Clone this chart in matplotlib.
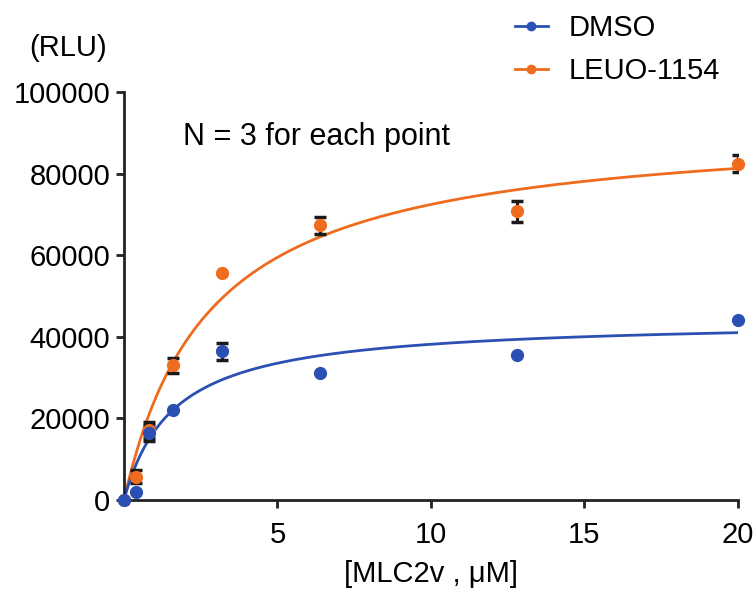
# enzyme kinetics plot: RLU vs MLC2v concentration, DMSO vs LEUO-1154
import numpy as np
import matplotlib
matplotlib.use('Agg')
import matplotlib.pyplot as plt
from matplotlib import rcParams

rcParams['font.family'] = ['Liberation Sans', 'DejaVu Sans']

# data (means +/- error; 0 = bar hidden by marker)
conc = np.array([0, 0.4, 0.8, 1.6, 3.2, 6.4, 12.8, 20])  # MLC2v (uM)
dmso = np.array([0, 2000, 16500, 22000, 36500, 31200, 35500, 44200])
dmso_err = np.array([0, 0, 2000, 0, 2100, 0, 0, 0])
leuo = np.array([0, 5700, 17200, 33000, 55600, 67300, 70700, 82400])
leuo_err = np.array([0, 1600, 2000, 1900, 0, 2000, 2600, 2150])

labels = ['DMSO', 'LEUO-1154']
colors = ['#2b50b4', '#ef6b1e']

yticks = [0, 20000, 40000, 60000, 80000, 100000]
xticks = [5, 10, 15, 20]


def mm_fit(x, y):
    # michaelis-menten least squares: grid on Km, Vmax solved linearly
    best = None
    for km in np.linspace(0.05, 20, 4000):
        f = x / (km + x)
        vm = np.sum(y * f) / np.sum(f * f)
        sse = np.sum((y - vm * f) ** 2)
        if best is None or sse < best[0]:
            best = (sse, km, vm)
    return best[1], best[2]


fig = plt.figure(figsize=(7.56, 5.89), dpi=100)
ax = fig.add_axes([0.164, 0.151, 0.812, 0.693])

xf = np.linspace(0, 20, 300)
handles = []
for y, err, col, lab in [(leuo, leuo_err, colors[1], labels[1]),
                         (dmso, dmso_err, colors[0], labels[0])]:
    km, vm = mm_fit(conc, y)
    ax.plot(xf, vm * xf / (km + xf), color=col, lw=2, zorder=2)
    m = err > 0
    ax.errorbar(conc[m], y[m], yerr=err[m], fmt='none', ecolor='#1a1a1a',
                elinewidth=2.2, capsize=4.5, capthick=2.5, zorder=3)
    ax.plot(conc, y, 'o', color=col, ms=8.5, zorder=4, clip_on=False)
    h, = ax.plot([], [], '-o', color=col, lw=2, ms=6, label=lab)
    handles.append(h)

ax.set_xlim(0, 20)
ax.set_ylim(0, 100000)
ax.set_xticks(xticks)
ax.set_yticks(yticks)
ax.set_yticklabels([str(t) for t in yticks])

for s in ['top', 'right']:
    ax.spines[s].set_visible(False)
for s in ['left', 'bottom']:
    ax.spines[s].set_linewidth(2)
    ax.spines[s].set_color('#222222')
ax.tick_params(width=2, length=6, labelsize=21, color='#222222')
ax.tick_params(axis='x', pad=9)
ax.tick_params(axis='y', pad=4)

ax.set_xlabel('[MLC2v , \u03bcM]', fontsize=21, labelpad=8)
fig.text(0.09, 1 - 48 / 589, '(RLU)', fontsize=21, ha='center', va='center')
ax.text(183 / 756, 1 - 137 / 589, 'N = 3 for each point', fontsize=22,
        transform=fig.transFigure, ha='left', va='center')

fig.legend(handles=handles[::-1], loc='upper left',
           bbox_to_anchor=(0.646, 1.02), frameon=False, fontsize=21,
           handlelength=1.15, handletextpad=0.7, labelspacing=0.5)

fig.savefig('out.png', dpi=100)
